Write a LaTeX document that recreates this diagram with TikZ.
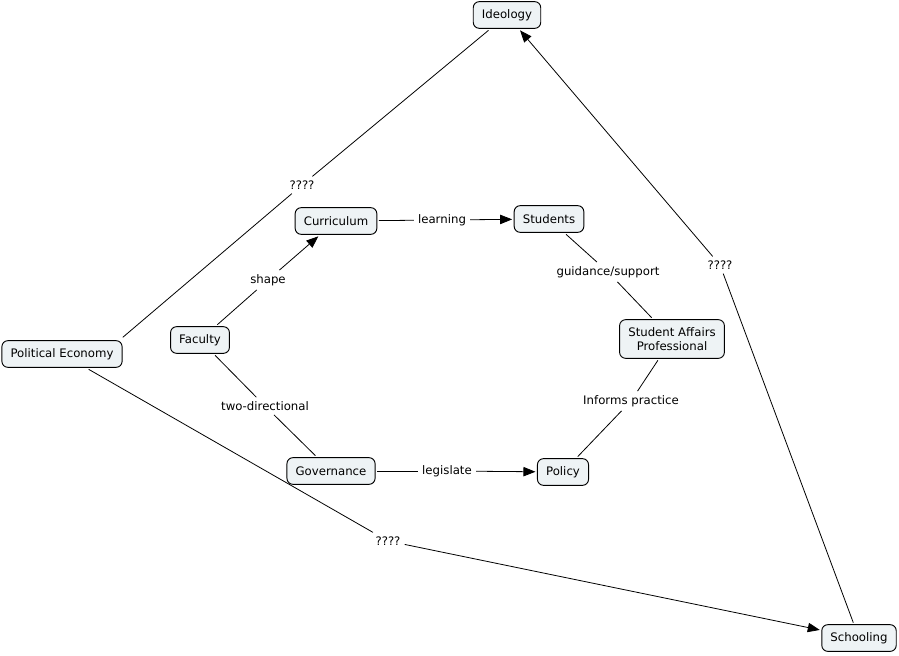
\documentclass[tikz,border=0pt]{standalone}
\usepackage{fontspec}
\setmainfont{DejaVu Sans}
\usetikzlibrary{arrows.meta}
\definecolor{cfill}{HTML}{EEF3F5}
\begin{document}
\begin{tikzpicture}[x=0.75pt,y=-0.75pt,
  concept/.style={draw=black,fill=cfill,rounded corners=4.5pt,line width=0.7pt,
    font=\fontsize{8.8}{10.7}\selectfont,inner xsep=6.5pt,minimum height=20pt,outer sep=1.5pt,align=center},
  phrase/.style={font=\fontsize{8.8}{10.7}\selectfont,inner sep=3pt,fill=white},
  link/.style={draw=black,line width=0.6pt},
  arr/.style={link,-{Triangle[length=9pt,width=7pt]}}]
\useasboundingbox (0,0) rectangle (899,656);
\node[concept] (ideo) at (507,15) {Ideology};
\node[concept] (curr) at (336,221) {Curriculum};
\node[concept] (stud) at (549,219) {Students};
\node[concept] (pe) at (62,354) {Political Economy};
\node[concept] (fac) at (200,340) {Faculty};
\node[concept,minimum height=29pt,inner ysep=2pt] (sap) at (672,339) {Student Affairs\\Professional};
\node[concept] (gov) at (331,471) {Governance};
\node[concept] (pol) at (563,472) {Policy};
\node[concept] (sch) at (859,638) {Schooling};

\node[phrase] (q1) at (302,185) {????};
\node[phrase] (learn) at (442,220) {learning};
\node[phrase] (shape) at (268,280) {shape};
\node[phrase] (guid) at (608,272) {guidance/support};
\node[phrase] (two) at (265,406) {two-directional};
\node[phrase] (inf) at (631,401) {Informs practice};
\node[phrase] (leg) at (447,471) {legislate};
\node[phrase] (q2) at (388,541) {????};
\node[phrase] (q3) at (720,265) {????};

\draw[link] ([xshift=-1pt,yshift=1pt]pe.north east) -- (q1);
\draw[link] (q1) -- (ideo);
\draw[link] (curr) -- (learn);
\draw[arr] (learn) -- (stud);
\draw[link] (fac) -- (shape);
\draw[arr] (shape) -- (curr);
\draw[link] (stud) -- (guid);
\draw[link] (guid) -- (sap);
\draw[link] (fac) -- (two);
\draw[link] (two) -- (gov);
\draw[link] (sap) -- (inf);
\draw[link] (inf) -- (pol);
\draw[link] (gov) -- (leg);
\draw[arr] (leg) -- (pol);
\draw[link] (pe) -- (q2);
\draw[arr] (q2) -- (sch);
\draw[link] (sch) -- (q3);
\draw[arr] (q3) -- (ideo);
\end{tikzpicture}
\end{document}
